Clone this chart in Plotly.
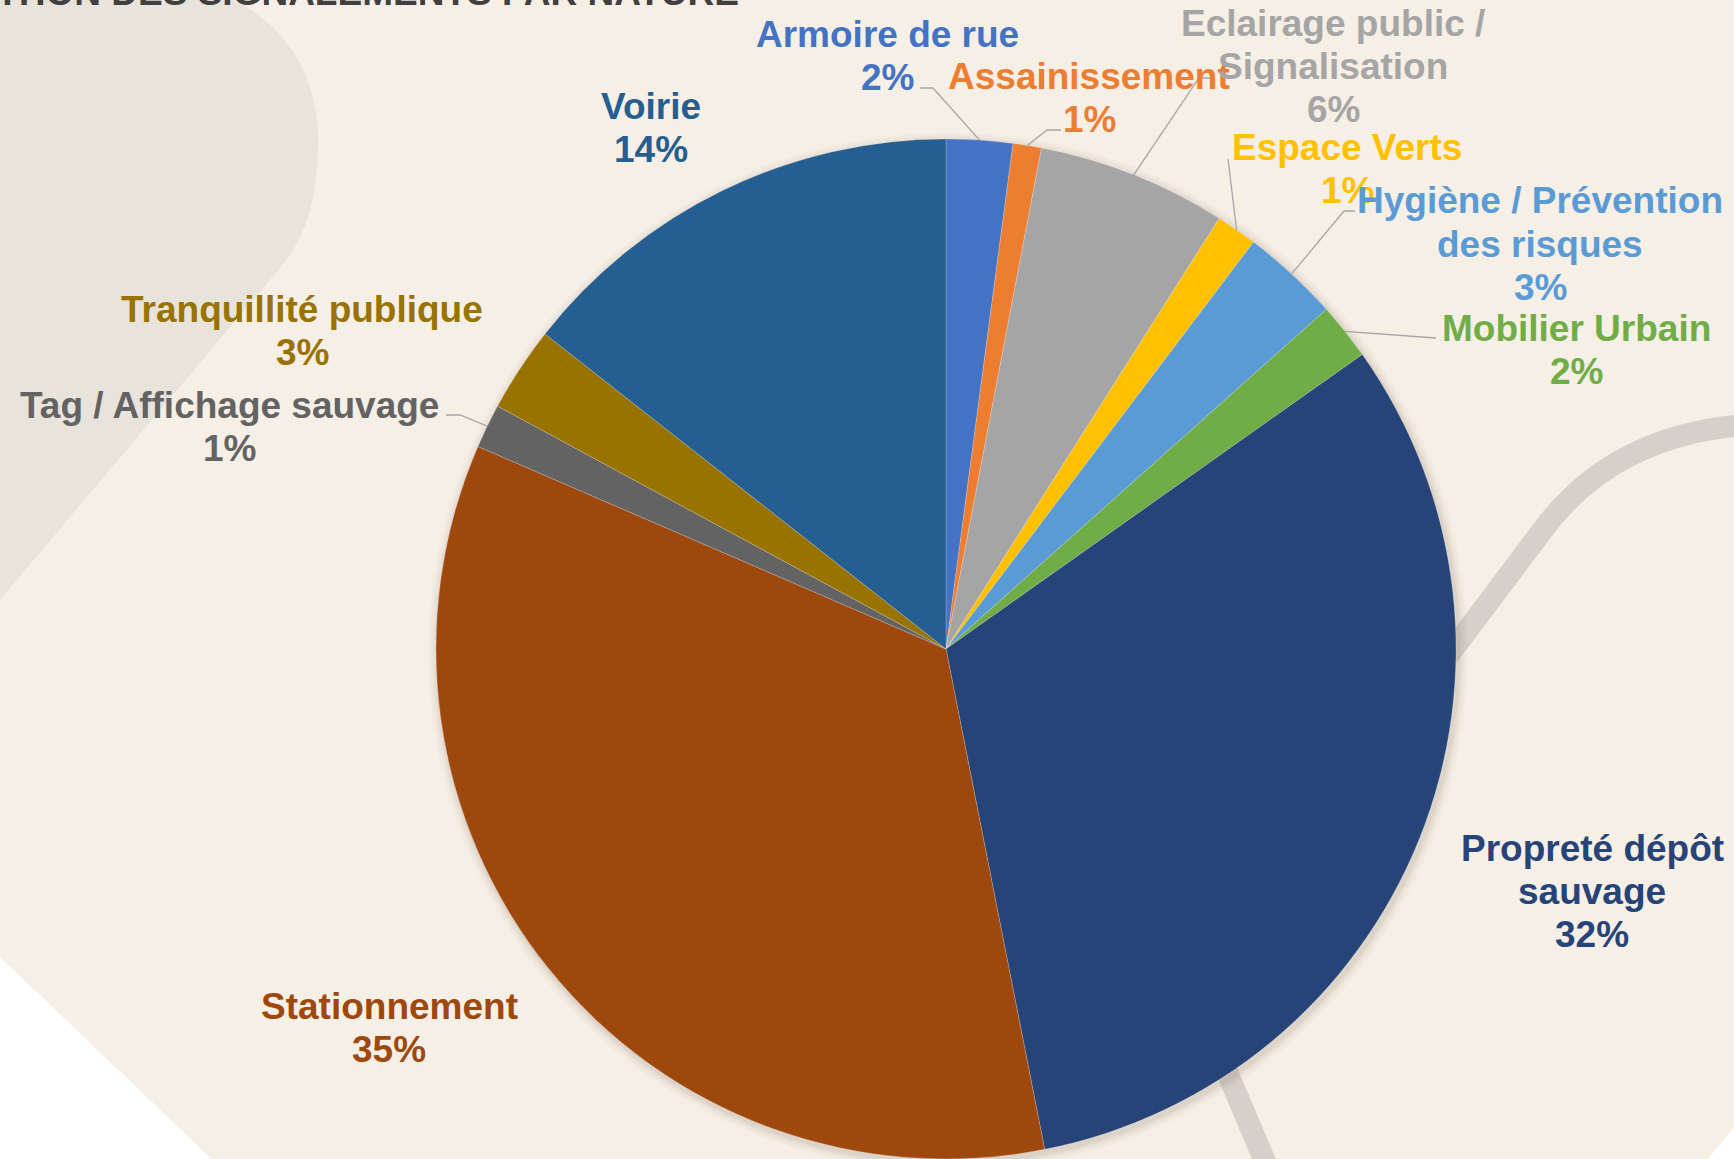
import plotly.graph_objects as go
import math

# ---------------- data ----------------
categories = [
    "Armoire de rue",
    "Assainissement",
    "Eclairage public / Signalisation",
    "Espace Verts",
    "Hygiène / Prévention des risques",
    "Mobilier Urbain",
    "Propreté dépôt sauvage",
    "Stationnement",
    "Tag / Affichage sauvage",
    "Tranquillité publique",
    "Voirie",
]
values = [2.1, 0.9, 6.0, 1.3, 3.1, 1.8, 31.7, 34.6, 1.4, 2.7, 14.4]
colors = ["#4472C4", "#ED7D31", "#A5A5A5", "#FFC000", "#5B9BD5", "#70AD47",
          "#264478", "#9E480E", "#636363", "#997300", "#255E91"]
title_text = "RÉPARTITION DES SIGNALEMENTS PAR NATURE"

# ---------------- layout helpers ----------------
W, H = 1734, 1159
CX, CY, R = 946, 649, 510
FONT = "Liberation Sans, Arial, sans-serif"
FS = 37
LINE_H = 43
BG = "#F6EFE5"


def px(x):
    return x / W


def py(y):
    return 1 - y / H


def path(pts, close=False):
    s = ""
    for cmd, coords in pts:
        s += cmd + " " + " ".join(f"{px(coords[i]):.5f},{py(coords[i+1]):.5f}"
                                  for i in range(0, len(coords), 2)) + " "
    if close:
        s += "Z"
    return s


# label wrapping and placement (pixel layout)
wrap = {
    "Eclairage public / Signalisation": ["Eclairage public /", "Signalisation"],
    "Hygiène / Prévention des risques": ["Hygiène / Prévention", "des risques"],
    "Propreté dépôt sauvage": ["Propreté dépôt", "sauvage"],
}
label_pos = {
    "Armoire de rue": (887, 56),
    "Assainissement": (1089, 98),
    "Eclairage public / Signalisation": (1333, 66),
    "Espace Verts": (1347, 169),
    "Hygiène / Prévention des risques": (1540, 244),
    "Mobilier Urbain": (1576, 350),
    "Propreté dépôt sauvage": (1592, 891),
    "Stationnement": (389, 1028),
    "Tag / Affichage sauvage": (230, 427),
    "Tranquillité publique": (302, 331),
    "Voirie": (651, 128),
}
# leader lines: points from label side towards the slice (slice point appended from data)
leaders = {
    "Armoire de rue": [(920, 88), (933, 88)],
    "Assainissement": [(1061, 130), (1047, 130)],
    "Eclairage public / Signalisation": [(1213, 78), (1199, 78)],
    "Espace Verts": [(1228, 159)],
    "Hygiène / Prévention des risques": [(1355, 211), (1344, 211)],
    "Mobilier Urbain": [(1436, 338)],
    "Tag / Affichage sauvage": [(446, 415), (460, 415)],
}

total = sum(values)
pcts = [f"{round(v / total * 100)}%" for v in values]

fig = go.Figure()

fig.add_trace(go.Pie(
    labels=categories,
    values=values,
    sort=False,
    direction="clockwise",
    rotation=0,
    marker=dict(colors=colors, line=dict(color="rgba(255,255,255,0.3)", width=0.7)),
    textinfo="none",
    hoverinfo="label+percent",
    domain=dict(x=[px(CX - R), px(CX + R)], y=[py(CY + R), py(CY - R)]),
    showlegend=False,
))

shapes = []
# background decorations
shapes.append(dict(type="path", xref="paper", yref="paper", layer="below",
                   path=path([("M", (0, 0)), ("L", (233, 0)),
                              ("C", (285, 25, 318, 75, 318, 140)),
                              ("C", (318, 200, 305, 235, 285, 262)),
                              ("L", (0, 600))], close=True),
                   fillcolor="#E8E4DB", line=dict(width=0)))
shapes.append(dict(type="path", xref="paper", yref="paper", layer="below",
                   path=path([("M", (0, 957)), ("L", (218, 1165)), ("L", (0, 1165))], close=True),
                   fillcolor="#FFFFFF", line=dict(width=0)))
shapes.append(dict(type="path", xref="paper", yref="paper", layer="below",
                   path=path([("M", (1703, 1165)), ("L", (1740, 1120)), ("L", (1740, 1165))], close=True),
                   fillcolor="#FFFFFF", line=dict(width=0)))
shapes.append(dict(type="path", xref="paper", yref="paper", layer="below",
                   path=path([("M", (1275, 1185)), ("L", (1222, 1060)),
                              ("C", (1190, 980, 1400, 720, 1460, 640)),
                              ("L", (1545, 527)),
                              ("Q", (1615, 435, 1745, 425))]),
                   fillcolor="rgba(0,0,0,0)", line=dict(color="#D6D0CA", width=22)))
# soft shadow around the pie
for i, a in enumerate([0.05, 0.04, 0.03, 0.02, 0.015]):
    rr = R + 2 + 2 * i
    shapes.append(dict(type="circle", xref="paper", yref="paper", layer="below",
                       x0=px(CX + 2 - rr), x1=px(CX + 2 + rr),
                       y0=py(CY + 3 + rr), y1=py(CY + 3 - rr),
                       fillcolor=f"rgba(90,70,50,{a})", line=dict(width=0)))

# leader lines, ending at each slice's mid-arc
cum = 0
for cat, v in zip(categories, values):
    mid = (cum + v / 2) / total * 2 * math.pi
    cum += v
    if cat in leaders:
        ex, ey = CX + R * math.sin(mid), CY - R * math.cos(mid)
        pts = leaders[cat] + [(ex, ey)]
        p = [("M", pts[0])] + [("L", q) for q in pts[1:]]
        shapes.append(dict(type="path", xref="paper", yref="paper", layer="above",
                           path=path(p), line=dict(color="#A6A6A6", width=1.3)))

annotations = []
for cat, col, pct in zip(categories, colors, pcts):
    lines = wrap.get(cat, [cat]) + [pct]
    cx, cy = label_pos[cat]
    n = len(lines)
    for i, t in enumerate(lines):
        yy = cy + (i - (n - 1) / 2) * LINE_H
        annotations.append(dict(text=t, x=px(cx), y=py(yy), xref="paper", yref="paper",
                                xanchor="center", yanchor="middle", showarrow=False,
                                font=dict(family=FONT, size=FS, color=col, weight="bold")))

annotations.append(dict(text=title_text, x=px(741), y=py(-8), xref="paper", yref="paper",
                        xanchor="right", yanchor="middle", showarrow=False,
                        font=dict(family=FONT, size=FS, color="#404040", weight="bold")))

fig.update_layout(
    width=W, height=H,
    margin=dict(l=0, r=0, t=0, b=0),
    paper_bgcolor=BG, plot_bgcolor=BG,
    shapes=shapes, annotations=annotations,
    showlegend=False,
)

fig.write_html("out.html",
               config={"displayModeBar": False},
               post_script="document.body.style.margin='0';document.body.style.overflow='hidden';")
